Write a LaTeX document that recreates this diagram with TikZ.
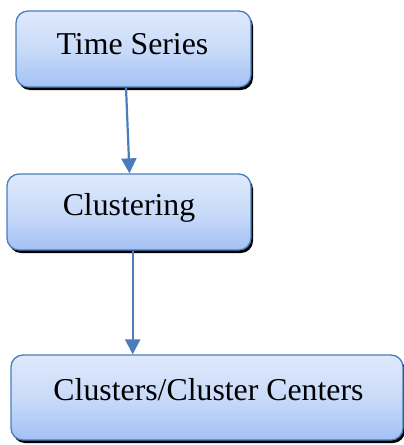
\documentclass[tikz,border=0pt]{standalone}
\usepackage{fontspec}
\setmainfont{Liberation Serif}
\usetikzlibrary{arrows.meta,shadows}
\definecolor{boxedge}{HTML}{4A7EBB}
\definecolor{boxtop}{HTML}{DFE9FC}
\definecolor{boxmid}{HTML}{C9DBF9}
\definecolor{boxbot}{HTML}{A3C1F4}
\tikzset{
  box/.style={rectangle, rounded corners=12pt, draw=boxedge, line width=1.3pt,
    top color=boxtop, bottom color=boxbot, middle color=boxmid,
    drop shadow={shadow xshift=2pt, shadow yshift=-3pt, fill=black, opacity=1},
    inner sep=0pt},
  lbl/.style={anchor=base, inner sep=0pt, font=\fontsize{31.8}{36}\selectfont},
  flow/.style={draw=boxedge, line width=2.2pt,
    -{Triangle[width=15pt,length=15pt]}}
}
\begin{document}
\begin{tikzpicture}[x=1pt,y=-1pt]
  \useasboundingbox (0,0) rectangle (404,445);
  % process boxes
  \node[box, minimum width=235pt, minimum height=76pt] (ts) at (133.5,49) {};
  \node[box, minimum width=244pt, minimum height=76pt] (cl) at (129,212) {};
  \node[box, minimum width=392pt, minimum height=85pt] (cc) at (207,397.5) {};
  % captions
  \node[lbl] (tst) at (132.5,54) {Time Series};
  \node[lbl] (clt) at (129,215) {Clustering};
  \node[lbl] (cct) at (208.5,400) {Clusters/Cluster Centers};
  % connectors
  \draw[flow] ([xshift=-7.5pt]ts.south) -- ([xshift=0.5pt]cl.north);
  \draw[flow] ([xshift=3.7pt]cl.south) -- ([xshift=-74.3pt]cc.north);
\end{tikzpicture}
\end{document}
